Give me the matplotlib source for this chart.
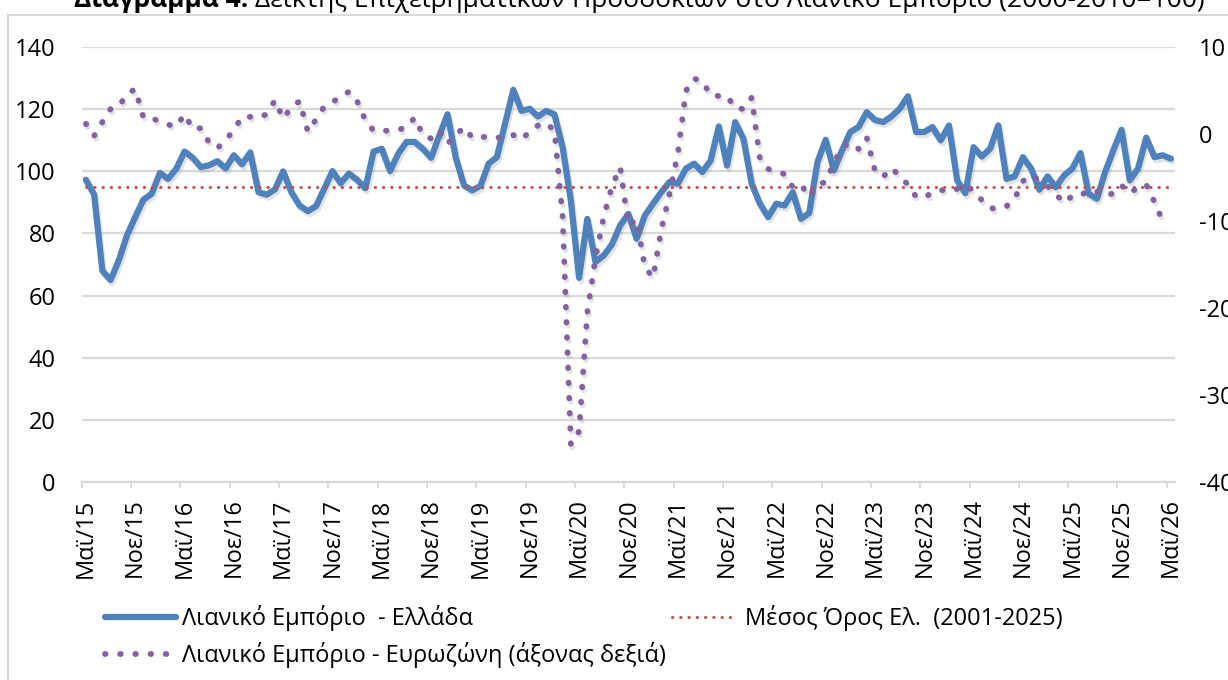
import numpy as np
import matplotlib
matplotlib.use("Agg")
import matplotlib.pyplot as plt
import matplotlib.patheffects as pe
from matplotlib.lines import Line2D
from matplotlib.patches import Rectangle

plt.rcParams['font.family'] = ['Open Sans', 'DejaVu Sans']
plt.rcParams['axes.unicode_minus'] = False

# ---------------- data ----------------
greece = [97.3, 92.6, 68.0, 65.0, 71.3, 79.4, 85.3, 90.9, 92.8, 99.5, 97.6, 100.9,
          106.4, 104.4, 101.4, 102.0, 103.3, 101.0, 105.2, 102.3, 106.1, 93.3, 92.5, 94.2,
          100.0, 93.3, 89.0, 87.2, 88.8, 94.4, 100.1, 96.2, 99.3, 97.3, 94.6, 106.4,
          107.3, 100.1, 105.7, 109.5, 109.5, 107.3, 104.4, 111.6, 118.4, 104.4, 95.5, 93.9,
          95.3, 102.5, 104.6, 115.4, 126.3, 119.5, 120.2, 117.7, 119.5, 118.4, 107.8, 90.6,
          65.7, 84.7, 70.8, 72.9, 76.5, 82.6, 86.3, 78.3, 85.8, 89.6, 93.3, 96.6,
          96.0, 100.9, 102.5, 99.8, 103.5, 114.5, 101.9, 115.9, 110.5, 96.0, 89.6, 85.3,
          89.6, 89.0, 93.3, 84.7, 86.6, 103.0, 110.2, 100.3, 106.8, 112.7, 114.3, 119.1,
          116.6, 115.9, 117.7, 120.2, 124.2, 112.7, 112.7, 114.3, 110.0, 114.8, 97.1, 93.0,
          107.8, 104.8, 107.3, 114.8, 97.6, 98.4, 104.6, 100.9, 94.1, 98.4, 94.9, 98.7,
          100.9, 105.9, 92.8, 91.2, 99.8, 106.8, 113.4, 97.1, 100.9, 110.9, 104.6, 105.2,
          104.1]

eurozone = [1.2, -0.2, 1.4, 2.9, 3.2, 4.6, 5.2, 1.9, 1.9, 1.4, 1.1, 0.9,
            2.3, 0.6, 0.7, -1.0, -1.6, -0.7, 0.5, 2.0, 2.0, 1.9, 2.3, 3.9,
            1.8, 3.1, 3.8, 0.3, 1.7, 3.2, 3.7, 4.3, 4.9, 3.8, 1.6, 0.4,
            0.4, 0.4, 0.5, 0.8, 1.9, -0.1, -0.5, 0.4, -1.1, -0.1, 0.8, -0.4,
            -0.4, -0.2, -0.4, -0.4, -0.1, -0.6, 0.3, 1.0, 1.3, 0.4, -9.5, -35.7,
            -34.2, -20.5, -14.2, -9.5, -6.0, -3.8, -10.5, -9.8, -15.3, -16.5, -11.0, -6.9,
            -2.3, 5.0, 6.4, 6.1, 4.5, 4.4, 4.4, 3.0, 2.9, 4.2, -2.8, -4.0,
            -4.3, -4.6, -6.1, -5.8, -7.2, -5.8, -5.5, -3.3, -1.5, -1.0, -1.7, -0.4,
            -4.2, -4.9, -3.9, -4.8, -5.8, -7.2, -7.3, -6.7, -6.4, -6.6, -6.3, -5.9,
            -6.5, -7.6, -8.5, -8.6, -8.3, -7.4, -5.4, -4.7, -5.3, -6.0, -6.9, -7.9,
            -7.1, -7.1, -6.4, -6.6, -7.1, -6.8, -5.9, -6.8, -6.1, -5.8, -7.8, -10.0]

mean_value = 95.1

tick_labels = ['Μαϊ/15', 'Νοε/15', 'Μαϊ/16', 'Νοε/16', 'Μαϊ/17', 'Νοε/17', 'Μαϊ/18',
               'Νοε/18', 'Μαϊ/19', 'Νοε/19', 'Μαϊ/20', 'Νοε/20', 'Μαϊ/21', 'Νοε/21',
               'Μαϊ/22', 'Νοε/22', 'Μαϊ/23', 'Νοε/23', 'Μαϊ/24', 'Νοε/24', 'Μαϊ/25',
               'Νοε/25', 'Μαϊ/26']

label_greece = 'Λιανικό Εμπόριο  - Ελλάδα'
label_mean = 'Μέσος Όρος Ελ.  (2001-2025)'
label_ez = 'Λιανικό Εμπόριο - Ευρωζώνη (άξονας δεξιά)'
title_bold = 'Διάγραμμα 4.'
title_rest = ' Δείκτης Επιχειρηματικών Προσδοκιών στο Λιανικό Εμπόριο (2000-2010=100)'

# ---------------- styling ----------------
W, H = 1228, 680
BLUE = '#4F81BD'
PURPLE = '#8064A2'
RED = '#C0504D'
GRID = '#D9D9D9'
FS = 17

fig = plt.figure(figsize=(W / 100, H / 100), dpi=100)
left, right, top, bottom = 81.8, 1175, 47.3, 481.7
ax = fig.add_axes([left / W, 1 - bottom / H, (right - left) / W, (bottom - top) / H])
ax2 = ax.twinx()

x_g = np.arange(len(greece))
x_e = np.arange(len(eurozone))
n = len(greece)

shadow = [pe.SimpleLineShadow(offset=(1.2, -2.2), shadow_color='#808080', alpha=0.22), pe.Normal()]

ax.plot(x_g, greece, color=BLUE, lw=4.5, solid_joinstyle='round', solid_capstyle='round',
        path_effects=shadow, zorder=3)
ax.plot([x_g[0], x_g[-1]], [mean_value, mean_value], color=RED, lw=2.2,
        linestyle=(0, (0.1, 2.6)), dash_capstyle='round', zorder=4)
ax2.plot(x_e, eurozone, color=PURPLE, lw=4.2, linestyle=(0, (0.1, 2.5)),
         dash_capstyle='round', path_effects=shadow, zorder=5)

ax.set_xlim(-0.5, n - 0.5)
ax.set_ylim(0, 140)
ax2.set_ylim(-40, 10)
ax.set_yticks(np.arange(0, 141, 20))
ax2.set_yticks(np.arange(-40, 11, 10))

ax.set_xticks(np.arange(0, n, 6))
ax.set_xticklabels(tick_labels, rotation=90, fontsize=FS)
ax.set_xticks(np.arange(-0.5, n, 6), minor=True)
ax.tick_params(axis='x', which='major', length=0, pad=12)
ax.tick_params(axis='x', which='minor', length=4.5, width=1.5, color=GRID)
ax.tick_params(axis='y', length=0, pad=19, labelsize=FS)
ax2.tick_params(axis='y', length=0, pad=17, labelsize=FS)

ax.yaxis.grid(True, color=GRID, lw=1.6)
ax.set_axisbelow(True)
for s in ['top', 'left', 'right']:
    ax.spines[s].set_visible(False)
ax.spines['bottom'].set_color(GRID)
ax.spines['bottom'].set_linewidth(1.6)
for s in ax2.spines.values():
    s.set_visible(False)

# chart border
fig.patches.append(Rectangle((8 / W, -0.05), 1.2, 1 - 15 / H + 0.05, transform=fig.transFigure,
                             fill=False, edgecolor=GRID, lw=1.5, zorder=0))

# title (partly cut off at the top)
TFS = 19
t1 = fig.text(74 / W, 1 - 7 / H, title_bold, fontsize=TFS, fontweight='bold', va='baseline')
fig.canvas.draw()
ax.annotate(title_rest, xy=(1, 0), xycoords=t1, fontsize=TFS, va='bottom', ha='left',
            annotation_clip=False)

# legends
h_blue = Line2D([], [], color=BLUE, lw=4.5, solid_capstyle='round')
h_ez = Line2D([], [], color=PURPLE, lw=4.2, linestyle=(0, (0.1, 2.5)), dash_capstyle='round')
h_mean = Line2D([], [], color=RED, lw=2.2, linestyle=(0, (0.1, 2.6)), dash_capstyle='round')

leg1 = fig.legend([h_blue, h_ez], [label_greece, label_ez], loc='center left',
                  bbox_to_anchor=(105 / W, 1 - 636.5 / H), frameon=False, fontsize=FS,
                  handlelength=3.0, handletextpad=0.25, borderpad=0, borderaxespad=0,
                  labelspacing=0.45)
leg2 = fig.legend([h_mean], [label_mean], loc='center left',
                  bbox_to_anchor=(672 / W, 1 - 618 / H), frameon=False, fontsize=FS,
                  handlelength=2.8, handletextpad=0.3, borderpad=0, borderaxespad=0)

fig.savefig('out.png', dpi=100)
